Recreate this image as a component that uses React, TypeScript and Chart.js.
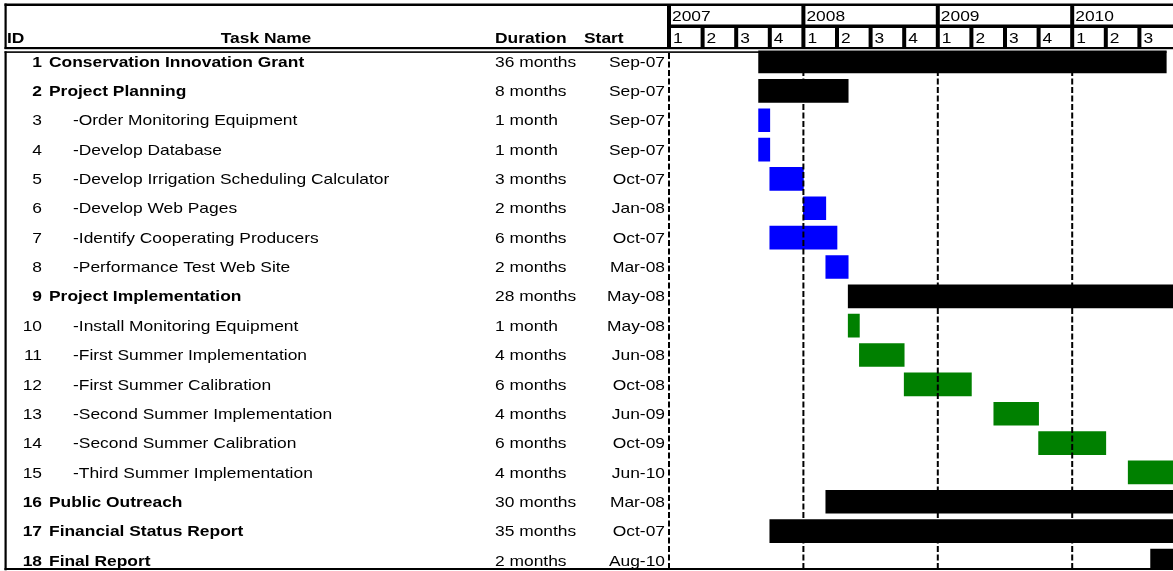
import React, { useEffect, useRef } from "react";
import { Chart, registerables } from "chart.js";

Chart.register(...registerables);

// ---- data ----
const taskIds = [1, 2, 3, 4, 5, 6, 7, 8, 9, 10, 11, 12, 13, 14, 15, 16, 17, 18];
const taskNames = [
  "Conservation Innovation Grant",
  "Project Planning",
  "-Order Monitoring Equipment",
  "-Develop Database",
  "-Develop Irrigation Scheduling Calculator",
  "-Develop Web Pages",
  "-Identify Cooperating Producers",
  "-Performance Test Web Site",
  "Project Implementation",
  "-Install Monitoring Equipment",
  "-First Summer Implementation",
  "-First Summer Calibration",
  "-Second Summer Implementation",
  "-Second Summer Calibration",
  "-Third Summer Implementation",
  "Public Outreach",
  "Financial Status Report",
  "Final Report",
];
const isSummary = [true, true, false, false, false, false, false, false, true, false, false, false, false, false, false, true, true, true];
const durations = [
  "36 months", "8 months", "1 month", "1 month", "3 months", "2 months", "6 months", "2 months",
  "28 months", "1 month", "4 months", "6 months", "4 months", "6 months", "4 months",
  "30 months", "35 months", "2 months",
];
const startLabels = [
  "Sep-07", "Sep-07", "Sep-07", "Sep-07", "Oct-07", "Jan-08", "Oct-07", "Mar-08",
  "May-08", "May-08", "Jun-08", "Oct-08", "Jun-09", "Oct-09", "Jun-10",
  "Mar-08", "Oct-07", "Aug-10",
];
// months counted from Jan 2007
const barStart = [8, 8, 8, 8, 9, 12, 9, 14, 16, 16, 17, 21, 29, 33, 41, 14, 9, 43];
const barEnd = [44.4, 16, 9, 9, 12, 14, 15, 16, 45, 17, 21, 27, 33, 39, 45, 45, 45, 45];
const barColors = [
  "#000000", "#000000", "#0000FF", "#0000FF", "#0000FF", "#0000FF", "#0000FF", "#0000FF",
  "#000000", "#008000", "#008000", "#008000", "#008000", "#008000", "#008000",
  "#000000", "#000000", "#000000",
];
const yearLabels = ["2007", "2008", "2009", "2010"];
const quarterLabels = ["1", "2", "3", "4"];

const W = 1173;
const H = 571;
const FONT = 'Arial, "Liberation Sans", sans-serif';
const SX = 1.16;

function drawText(
  ctx: CanvasRenderingContext2D,
  text: string,
  x: number,
  y: number,
  align: CanvasTextAlign,
  bold: boolean
) {
  ctx.save();
  ctx.font = `${bold ? "bold " : ""}15px ${FONT}`;
  ctx.textAlign = align;
  ctx.textBaseline = "middle";
  ctx.translate(x, y);
  ctx.scale(SX, 1);
  ctx.fillText(text, 0, 0);
  ctx.restore();
}

export default function App() {
  const ref = useRef<HTMLCanvasElement>(null);

  useEffect(() => {
    const canvas = ref.current;
    if (!canvas) return;

    const ganttPlugin = {
      id: "ganttTable",
      afterDatasetsDraw(chart: any) {
        const { ctx, scales } = chart;
        const xs = scales.x;
        ctx.save();
        ctx.strokeStyle = "#000";
        ctx.lineWidth = 2;
        ctx.setLineDash([6, 2.5]);
        for (let m = 0; m <= 45; m += 12) {
          const px = xs.getPixelForValue(m);
          ctx.beginPath();
          ctx.moveTo(px, 53);
          ctx.lineTo(px, 569);
          ctx.stroke();
        }
        ctx.setLineDash([]);
        ctx.restore();
      },
      afterDraw(chart: any) {
        const { ctx, scales } = chart;
        const xs = scales.x;
        const ys = scales.y;
        ctx.save();
        ctx.fillStyle = "#000";

        // frame lines
        ctx.fillRect(4.5, 3.5, W, 2.5); // top
        ctx.fillRect(4.5, 3.5, 2.2, 45.5); // header left
        ctx.fillRect(4.5, 47, W, 2.2); // header bottom
        ctx.fillRect(4.5, 51.3, 1162, 1.6); // body top
        ctx.fillRect(4.5, 51.3, 2.2, 519); // body left
        ctx.fillRect(4.5, 568, W, 2); // bottom

        const x0 = xs.getPixelForValue(0);
        ctx.fillRect(x0 - 2, 24.5, W, 3.5); // year / quarter divider

        // year row
        yearLabels.forEach((yl, i) => {
          const px = xs.getPixelForValue(i * 12);
          ctx.fillRect(px - 2, 4, 4, 22);
          drawText(ctx, yl, px + 3, 16.5, "left", false);
        });
        // quarter row
        for (let m = 0; m < 45; m += 3) {
          const px = xs.getPixelForValue(m);
          ctx.fillRect(px - 2, 27, 4, 21);
          drawText(ctx, quarterLabels[(m / 3) % 4], px + 4, 38.5, "left", false);
        }

        // table header
        drawText(ctx, "ID", 7, 38.5, "left", true);
        drawText(ctx, "Duration", 495, 38.5, "left", true);
        drawText(ctx, "Start", 584, 38.5, "left", true);
        drawText(ctx, "Task Name", 266, 38.5, "center", true);

        // table rows
        taskIds.forEach((id, i) => {
          const py = ys.getPixelForValue(i + 1) + 1;
          const bold = isSummary[i];
          drawText(ctx, String(id), 42, py, "right", bold);
          drawText(ctx, taskNames[i], bold ? 49 : 73, py, "left", bold);
          drawText(ctx, durations[i], 495, py, "left", false);
          drawText(ctx, startLabels[i], 665, py, "right", false);
        });
        ctx.restore();
      },
    };

    const chart = new Chart(canvas, {
      type: "bar",
      data: {
        datasets: [
          {
            data: taskIds.map((_, i) => ({ x: [barStart[i], barEnd[i]], y: i + 1 })) as any,
            backgroundColor: barColors,
            borderWidth: 0,
            barThickness: 23,
          },
        ],
      },
      options: {
        indexAxis: "y",
        responsive: false,
        maintainAspectRatio: false,
        animation: false,
        layout: { padding: { left: 669, right: 0, top: 50.5, bottom: 2 } },
        scales: {
          x: { type: "linear", min: 0, max: 45, offset: false, display: false },
          y: { type: "linear", min: 0.625, max: 18.29, reverse: true, offset: false, display: false },
        },
        plugins: {
          legend: { display: false },
          tooltip: { enabled: false },
        },
      },
      plugins: [ganttPlugin],
    });
    return () => chart.destroy();
  }, []);

  return (
    <div style={{ width: W, height: H, overflow: "hidden", background: "#fff" }}>
      <style>{"body{margin:0;overflow:hidden;background:#fff}"}</style>
      <canvas ref={ref} width={W} height={H} style={{ display: "block" }} />
    </div>
  );
}
